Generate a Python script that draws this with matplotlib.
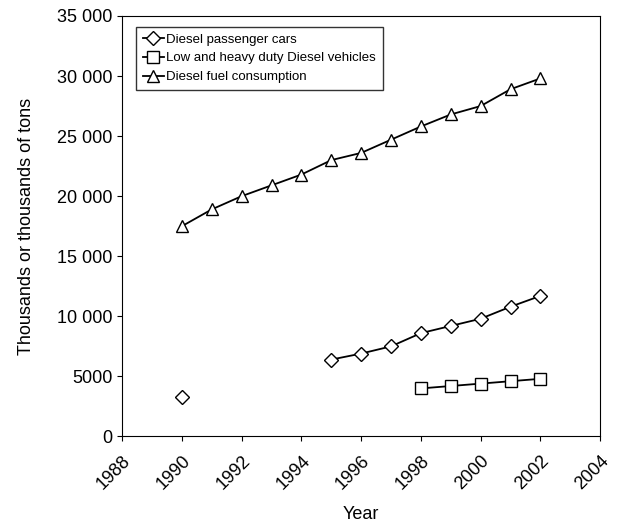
import matplotlib.pyplot as plt
from matplotlib.ticker import FuncFormatter

years_cars = [1995, 1996, 1997, 1998, 1999, 2000, 2001, 2002]
cars = [6400, 6900, 7500, 8600, 9200, 9800, 10800, 11700]
cars_1990 = 3300

years_heavy = [1998, 1999, 2000, 2001, 2002]
heavy = [4000, 4200, 4400, 4600, 4800]

years_fuel = list(range(1990, 2003))
fuel = [17500, 18900, 20000, 20900, 21800, 23000, 23600, 24700, 25800, 26800, 27500, 28900, 29800]

plt.rcParams['font.family'] = ['Liberation Sans', 'DejaVu Sans']
fig = plt.figure(figsize=(6.2, 5.31), dpi=100)
ax = fig.add_axes([0.197, 0.178, 0.771, 0.792])

mk = dict(color='black', mfc='white', mec='black', lw=1.3, ms=8, mew=1)
ax.plot(years_cars, cars, marker='D', label='Diesel passenger cars', **{**mk, 'ms': 7})
ax.plot([1990], [cars_1990], marker='D', ls='none', **{**mk, 'ms': 7})
ax.plot(years_heavy, heavy, marker='s', label='Low and heavy duty Diesel vehicles', **mk)
ax.plot(years_fuel, fuel, marker='^', label='Diesel fuel consumption', **mk)

ax.set_xlim(1988, 2004)
ax.set_ylim(0, 35000)
ax.set_xticks(range(1988, 2005, 2))
ax.set_yticks(range(0, 35001, 5000))
ax.yaxis.set_major_formatter(FuncFormatter(
    lambda v, p: f'{int(v):,}'.replace(',', ' ') if v >= 10000 else f'{int(v)}'))
ax.tick_params(labelsize=13)
ax.tick_params(axis='x', pad=8)
plt.setp(ax.get_xticklabels(), rotation=45, ha='right', rotation_mode='anchor')
ax.set_xlabel('Year', fontsize=13, labelpad=9)
ax.set_ylabel('Thousands or thousands of tons', fontsize=13, labelpad=16)
ax.legend(loc='upper left', fontsize=9.5, frameon=True, fancybox=False,
          edgecolor='black', handlelength=1.6, borderpad=0.5, labelspacing=0.5,
          handletextpad=0.2, bbox_to_anchor=(0.015, 0.99))

fig.savefig('out.png')
